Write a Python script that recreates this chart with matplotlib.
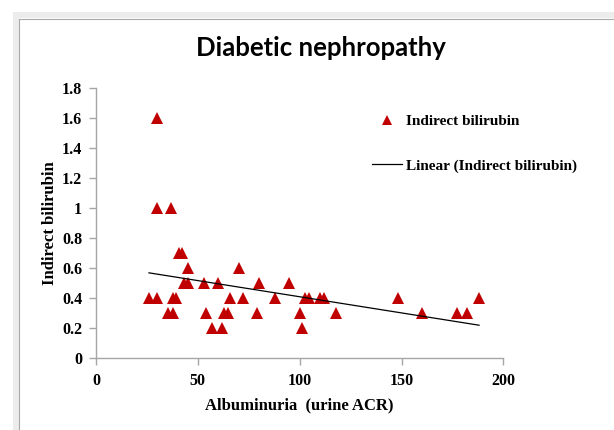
import numpy as np
import matplotlib
matplotlib.use("Agg")
import matplotlib.pyplot as plt
from matplotlib.lines import Line2D
from matplotlib.patches import Rectangle

# Data
acr = [26, 30, 30, 30, 37, 38, 39.5, 35.5, 38, 40.5, 42, 45, 43, 45, 53, 54, 57, 60,
       62, 63, 65, 66, 70, 72, 79, 80, 88, 94.5, 100, 101, 102.5, 104.5, 110, 112,
       118, 148, 160, 177, 182, 188]
bilirubin = [0.4, 0.4, 1.0, 1.6, 1.0, 0.4, 0.4, 0.3, 0.3, 0.7, 0.7, 0.6, 0.5, 0.5,
             0.5, 0.3, 0.2, 0.5, 0.2, 0.3, 0.3, 0.4, 0.6, 0.4, 0.3, 0.5, 0.4, 0.5,
             0.3, 0.2, 0.4, 0.4, 0.4, 0.4, 0.3, 0.4, 0.3, 0.3, 0.3, 0.4]
x_ticks = [0, 50, 100, 150, 200]
y_ticks = [0, 0.2, 0.4, 0.6, 0.8, 1, 1.2, 1.4, 1.6, 1.8]
y_tick_labels = ["0", "0.2", "0.4", "0.6", "0.8", "1", "1.2", "1.4", "1.6", "1.8"]

title = "Diabetic nephropathy"
x_label = "Albuminuria  (urine ACR)"
y_label = "Indirect bilirubin"
series_name = "Indirect bilirubin"
trend_name = "Linear (Indirect bilirubin)"

W, H = 614, 430
fig = plt.figure(figsize=(W / 100, H / 100), dpi=100)
fig.patch.set_facecolor("white")

# window-like frame (top and left bands)
fig.patches.append(Rectangle((13 / W, 1 - 18 / H), 1 - 13 / W, 6 / H, transform=fig.transFigure,
                             facecolor="#ececec", edgecolor="none", zorder=0))
fig.patches.append(Rectangle((13 / W, 0), 6 / W, 1 - 12 / H, transform=fig.transFigure,
                             facecolor="#ececec", edgecolor="none", zorder=0))
fig.add_artist(Line2D([19 / W, 1], [1 - 18.5 / H, 1 - 18.5 / H], transform=fig.transFigure,
                      color="#a8a8a8", lw=0.8))
fig.add_artist(Line2D([19 / W, 19 / W], [0, 1 - 18.5 / H], transform=fig.transFigure,
                      color="#a8a8a8", lw=0.8))

ax = fig.add_axes([96 / W, 1 - 358 / H, (503.5 - 96) / W, (358 - 88) / H])

red = "#c00000"
ax.plot(acr, bilirubin, linestyle="none", marker="^", markersize=8.5, color=red,
        markeredgewidth=0, label=series_name, zorder=3)

# linear trend line fitted from the data
xa = np.array(acr, dtype=float)
ya = np.array(bilirubin, dtype=float)
k, b = np.polyfit(xa, ya, 1)
xl = np.array([xa.min(), xa.max()])
ax.plot(xl, k * xl + b, color="black", lw=0.9, label=trend_name, zorder=4)

ax.set_xlim(0, 200)
ax.set_ylim(0, 1.8)
ax.set_xticks(x_ticks)
ax.set_yticks(y_ticks)
ax.set_yticklabels(y_tick_labels)

serif = "Liberation Serif"
for sp in ["top", "right"]:
    ax.spines[sp].set_visible(False)
for sp in ["left", "bottom"]:
    ax.spines[sp].set_color("#a6a6a6")
    ax.spines[sp].set_linewidth(1.0)
ax.tick_params(axis="both", direction="out", length=5, width=1, color="#a6a6a6",
               labelsize=11.5, pad=5)
for lab in ax.get_xticklabels() + ax.get_yticklabels():
    lab.set_fontfamily(serif)
    lab.set_fontweight("bold")
ax.tick_params(axis="x", pad=6)

ax.set_xlabel(x_label, fontfamily=serif, fontweight="bold", fontsize=12, labelpad=6)
ax.set_ylabel(y_label, fontfamily=serif, fontweight="bold", fontsize=12, labelpad=3)

fig.text(0.523, 1 - 48 / H, title, ha="center", va="center", fontfamily="Lato",
         fontweight="bold", fontsize=18.5)

handles = [Line2D([], [], linestyle="none", marker="^", markersize=7, color=red,
                  markeredgewidth=0),
           Line2D([], [], color="black", lw=0.9)]
leg = fig.legend(handles, [series_name, trend_name], loc="upper left",
                 bbox_to_anchor=(358 / W, 1 - 101 / H), frameon=False,
                 prop={"family": serif, "weight": "bold", "size": 11},
                 labelspacing=2.0, handlelength=1.95, handletextpad=0.3)

fig.savefig("out.png", dpi=100, facecolor="white")
